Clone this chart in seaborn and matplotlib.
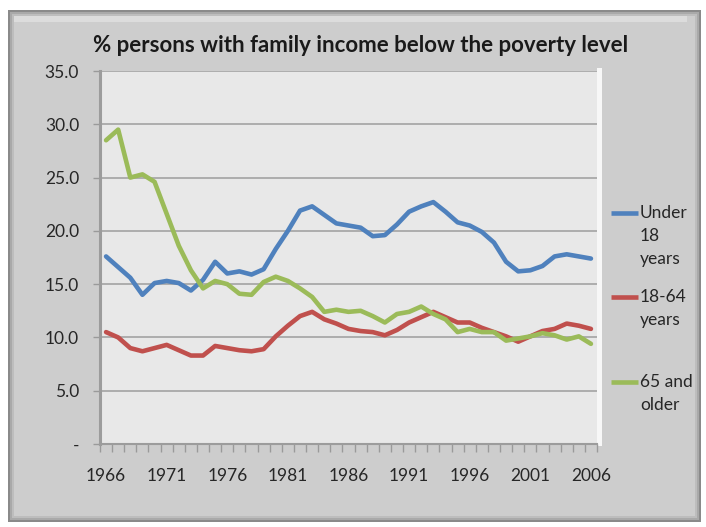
import matplotlib
matplotlib.use("Agg")
import numpy as np
import pandas as pd
import matplotlib.pyplot as plt
import seaborn as sns
from matplotlib.patches import Rectangle
from matplotlib.lines import Line2D

# Poverty rates (%) by age group, 1966-2006
years = list(range(1966, 2007))
under_18 = [17.6, 16.6, 15.6, 14.0, 15.1, 15.3, 15.1, 14.4, 15.4, 17.1,
            16.0, 16.2, 15.9, 16.4, 18.3, 20.0, 21.9, 22.3, 21.5, 20.7,
            20.5, 20.3, 19.5, 19.6, 20.6, 21.8, 22.3, 22.7, 21.8, 20.8,
            20.5, 19.9, 18.9, 17.1, 16.2, 16.3, 16.7, 17.6, 17.8, 17.6,
            17.4]
age_18_64 = [10.5, 10.0, 9.0, 8.7, 9.0, 9.3, 8.8, 8.3, 8.3, 9.2,
             9.0, 8.8, 8.7, 8.9, 10.1, 11.1, 12.0, 12.4, 11.7, 11.3,
             10.8, 10.6, 10.5, 10.2, 10.7, 11.4, 11.9, 12.4, 11.9, 11.4,
             11.4, 10.9, 10.5, 10.1, 9.6, 10.1, 10.6, 10.8, 11.3, 11.1,
             10.8]
age_65_up = [28.5, 29.5, 25.0, 25.3, 24.6, 21.6, 18.6, 16.3, 14.6, 15.3,
             15.0, 14.1, 14.0, 15.2, 15.7, 15.3, 14.6, 13.8, 12.4, 12.6,
             12.4, 12.5, 12.0, 11.4, 12.2, 12.4, 12.9, 12.2, 11.7, 10.5,
             10.8, 10.5, 10.5, 9.7, 9.9, 10.1, 10.4, 10.2, 9.8, 10.1,
             9.4]
series_names = ["Under\n18\nyears", "18-64\nyears", "65 and\nolder"]
series_colors = ["#4F81BD", "#C0504D", "#9BBB59"]
y_ticks = [0, 5, 10, 15, 20, 25, 30, 35]
y_tick_labels = ["-", "5.0", "10.0", "15.0", "20.0", "25.0", "30.0", "35.0"]
x_label_years = [1966, 1971, 1976, 1981, 1986, 1991, 1996, 2001, 2006]
title = "% persons with family income below the poverty level"

df = pd.DataFrame({
    "year": years * 3,
    "rate": under_18 + age_18_64 + age_65_up,
    "group": sum([[n] * len(years) for n in series_names], []),
})

W, H = 706, 527
sns.set_theme(style="white")
plt.rcParams["font.family"] = ["Lato", "DejaVu Sans"]
TXT = "#262626"


def fig_box(x, y, w, h):
    """Pixel box (top-left origin) -> figure fraction rect."""
    return [x / W, 1 - (y + h) / H, w / W, h / H]


fig = plt.figure(figsize=(W / 100, H / 100), dpi=100)
fig.patch.set_facecolor("white")

# bevelled grey chart frame
for inset, col in [(0, "#8a8a8a"), (2, "#a9a9a9"), (4, "#bdbdbd"), (6, "#cdcdcd")]:
    x0, y0, x1, y1 = 8 + inset, 10 + inset, 701 - inset, 522 - inset
    fig.add_artist(Rectangle((x0 / W, 1 - y1 / H), (x1 - x0) / W, (y1 - y0) / H,
                             transform=fig.transFigure, facecolor=col,
                             edgecolor="none", zorder=0))
fig.add_artist(Rectangle((14 / W, 1 - 22 / H), (687 - 14) / W, 6 / H,
                         transform=fig.transFigure, facecolor="#dcdcdc",
                         edgecolor="none", zorder=0))
# light edge at the right side of the plot wall
fig.add_artist(Rectangle((597 / W, 1 - 446 / H), 5 / W, (446 - 68) / H,
                         transform=fig.transFigure, facecolor="#f7f7f7",
                         edgecolor="none", zorder=0))

ax = fig.add_axes(fig_box(100, 71, 497, 373))
ax.set_facecolor("#e8e8e8")

sns.lineplot(data=df, x="year", y="rate", hue="group", hue_order=series_names,
             palette=series_colors, linewidth=3.3, legend=False, ax=ax)
for ln in ax.get_lines():
    ln.set_solid_joinstyle("round")
    ln.set_solid_capstyle("round")

ax.set_xlim(years[0] - 0.5, years[-1] + 0.5)
ax.set_ylim(0, 35)
ax.set_xlabel("")
ax.set_ylabel("")

ax.set_yticks(y_ticks, labels=y_tick_labels)
ax.yaxis.grid(True, color="#a8a8a8", linewidth=1.3)
ax.xaxis.grid(False)
ax.set_axisbelow(True)

# category boundary tick marks, with labels centred every five years
ax.set_xticks(np.arange(years[0] - 0.5, years[-1] + 1.0, 1.0), labels=[])
ax.set_xticks(x_label_years, labels=[str(y) for y in x_label_years], minor=True)
ax.tick_params(axis="x", which="major", direction="out", length=6, width=1,
               color="#9a9a9a", bottom=True)
ax.tick_params(axis="x", which="minor", length=0, pad=17, labelsize=12.5,
               labelcolor=TXT, bottom=True)
ax.tick_params(axis="y", direction="out", length=5, width=1, color="#9a9a9a",
               pad=10, labelsize=12.5, labelcolor=TXT, left=True)

for side in ["top", "right"]:
    ax.spines[side].set_visible(False)
ax.spines["left"].set_color("#9c9c9c")
ax.spines["left"].set_linewidth(2.2)
ax.spines["bottom"].set_color("#9c9c9c")
ax.spines["bottom"].set_linewidth(1.5)

fig.text(361 / W, 1 - 45 / H, title, ha="center", va="center",
         fontsize=16, fontweight="bold", color="#1a1a1a")

# legend on the right, drawn from the plotted lines
legend_rows = [213, 297, 382]
for ln, name, yrow in zip(ax.get_lines(), series_names, legend_rows):
    fig.add_artist(Line2D([611 / W, 638 / W], [1 - yrow / H] * 2,
                          transform=fig.transFigure, color=ln.get_color(),
                          linewidth=3.3, solid_capstyle="butt"))
    fig.text(640 / W, 1 - (yrow - 8) / H, name, ha="left", va="top",
             fontsize=12.5, color=TXT, linespacing=1.55)

fig.savefig("out.png", dpi=100, facecolor=fig.get_facecolor())
